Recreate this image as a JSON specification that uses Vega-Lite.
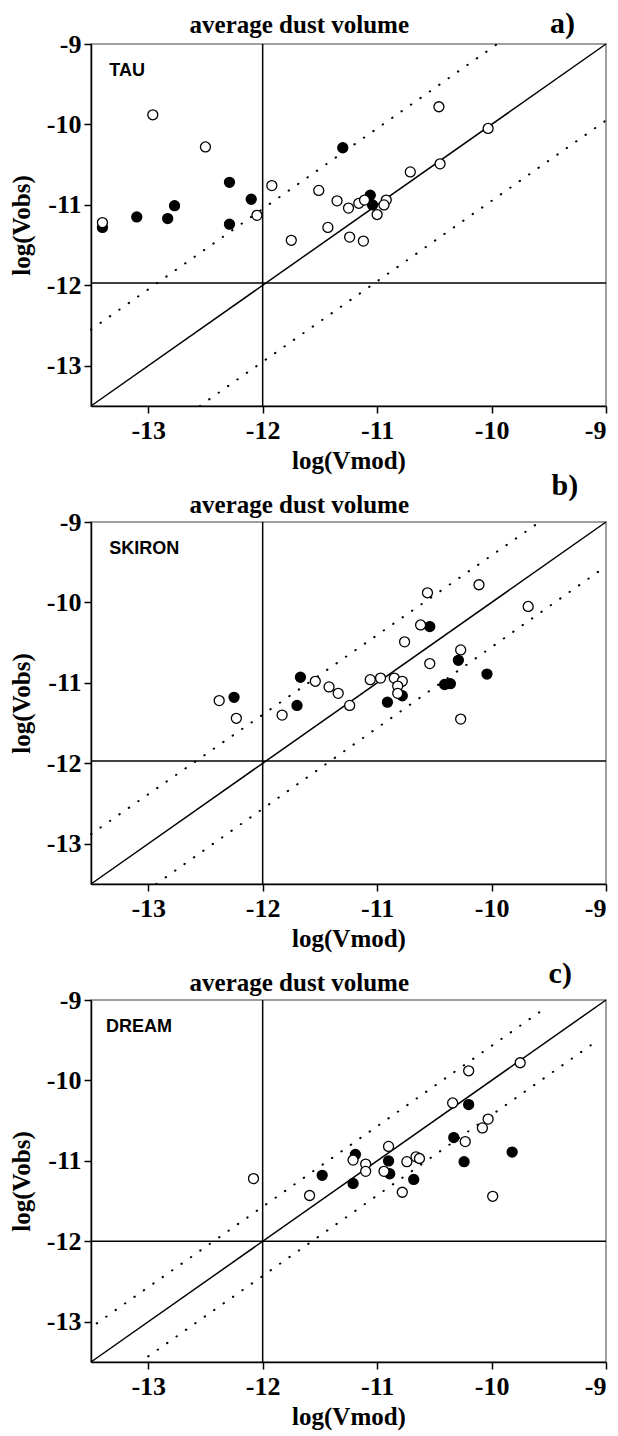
{
  "$schema": "https://vega.github.io/schema/vega-lite/v6.json",
  "padding": {"left": 8, "top": 8, "right": 5, "bottom": 5},
  "background": "white",
  "bounds": "flush",
  "spacing": 116,
  "config": {
    "font": "Liberation Serif",
    "view": {"stroke": "#808080", "strokeWidth": 1.5},
    "axis": {
      "grid": false,
      "domainColor": "black",
      "domainWidth": 1.5,
      "tickColor": "black",
      "tickWidth": 1.5,
      "tickSize": 7,
      "labelFont": "Liberation Serif",
      "labelFontSize": 26,
      "labelFontWeight": "bold",
      "labelColor": "black",
      "titleFont": "Liberation Serif",
      "titleFontSize": 25,
      "titleFontWeight": "bold",
      "titleColor": "black"
    },
    "axisX": {"labelPadding": 4, "titlePadding": 5},
    "axisY": {"labelPadding": 3, "titlePadding": 12}
  },
  "vconcat": [
    {
      "width": 515,
      "height": 362,
      "layer": [
        {
          "data": {"values": [{"x": -13.5, "y": -13.5}, {"x": -9, "y": -9}]},
          "mark": {"type": "line", "color": "black", "strokeWidth": 1.5},
          "encoding": {
            "x": {"field": "x", "type": "quantitative", "scale": {"domain": [-13.5, -9], "nice": false, "zero": false}, "axis": {"title": "log(Vmod)", "values": [-13, -12, -11, -10, -9], "labelExpr": "toString(datum.value)", "labelFontWeight": "bold"}},
            "y": {"field": "y", "type": "quantitative", "scale": {"domain": [-13.5, -9], "nice": false, "zero": false}, "axis": {"title": "log(Vobs)", "values": [-13, -12, -11, -10, -9], "labelExpr": "toString(datum.value)", "labelFontWeight": "bold"}}
          }
        },
        {
          "data": {"values": [
            {"g": "upper", "x": -13.5, "y": -12.55}, {"g": "upper", "x": -9.95, "y": -9},
            {"g": "lower", "x": -12.55, "y": -13.5}, {"g": "lower", "x": -9, "y": -9.95}
          ]},
          "mark": {"type": "line", "color": "black", "strokeWidth": 2, "strokeDash": [0.5, 11], "strokeCap": "round"},
          "encoding": {"x": {"field": "x", "type": "quantitative"}, "y": {"field": "y", "type": "quantitative"}, "detail": {"field": "g"}}
        },
        {
          "data": {"values": [{"v": -12}]},
          "mark": {"type": "rule", "color": "black", "strokeWidth": 1.5},
          "encoding": {"x": {"field": "v", "type": "quantitative"}}
        },
        {
          "data": {"values": [{"v": -11.97}]},
          "mark": {"type": "rule", "color": "black", "strokeWidth": 1.5},
          "encoding": {"y": {"field": "v", "type": "quantitative"}}
        },
        {
          "data": {"values": [
            {"x": -13.40, "y": -11.28, "t": "filled"},
            {"x": -13.10, "y": -11.15, "t": "filled"},
            {"x": -12.83, "y": -11.17, "t": "filled"},
            {"x": -12.77, "y": -11.01, "t": "filled"},
            {"x": -12.29, "y": -10.72, "t": "filled"},
            {"x": -12.29, "y": -11.24, "t": "filled"},
            {"x": -12.10, "y": -10.93, "t": "filled"},
            {"x": -11.30, "y": -10.29, "t": "filled"},
            {"x": -11.06, "y": -10.88, "t": "filled"},
            {"x": -11.04, "y": -11.00, "t": "filled"},
            {"x": -13.40, "y": -11.22, "t": "open"},
            {"x": -12.96, "y": -9.88, "t": "open"},
            {"x": -12.50, "y": -10.28, "t": "open"},
            {"x": -11.92, "y": -10.76, "t": "open"},
            {"x": -12.05, "y": -11.13, "t": "open"},
            {"x": -11.75, "y": -11.44, "t": "open"},
            {"x": -11.51, "y": -10.82, "t": "open"},
            {"x": -11.43, "y": -11.28, "t": "open"},
            {"x": -11.35, "y": -10.95, "t": "open"},
            {"x": -11.25, "y": -11.04, "t": "open"},
            {"x": -11.24, "y": -11.40, "t": "open"},
            {"x": -11.16, "y": -10.98, "t": "open"},
            {"x": -11.11, "y": -10.94, "t": "open"},
            {"x": -11.12, "y": -11.45, "t": "open"},
            {"x": -11.00, "y": -11.12, "t": "open"},
            {"x": -10.92, "y": -10.94, "t": "open"},
            {"x": -10.94, "y": -11.00, "t": "open"},
            {"x": -10.71, "y": -10.59, "t": "open"},
            {"x": -10.45, "y": -10.49, "t": "open"},
            {"x": -10.46, "y": -9.78, "t": "open"},
            {"x": -10.03, "y": -10.05, "t": "open"}
          ]},
          "mark": {"type": "point", "shape": "circle", "filled": true, "size": 100, "stroke": "black", "strokeWidth": 1.3, "opacity": 1},
          "encoding": {
            "x": {"field": "x", "type": "quantitative"},
            "y": {"field": "y", "type": "quantitative"},
            "fill": {"field": "t", "type": "nominal", "scale": {"domain": ["open", "filled"], "range": ["white", "black"]}, "legend": null}
          }
        },
        {
          "data": {"values": [{"label": "TAU"}]},
          "mark": {"type": "text", "font": "Liberation Sans", "fontWeight": "bold", "fontSize": 18, "align": "left", "baseline": "middle", "color": "black"},
          "encoding": {"x": {"datum": -13.34}, "y": {"datum": -9.34}, "text": {"field": "label"}}
        },
        {
          "data": {"values": [{"label": "average dust volume"}]},
          "mark": {"type": "text", "font": "Liberation Serif", "fontWeight": "bold", "fontSize": 25, "align": "center", "baseline": "middle", "color": "black"},
          "encoding": {"x": {"datum": -11.68}, "y": {"datum": -8.77}, "text": {"field": "label"}}
        },
        {
          "data": {"values": [{"label": "a)"}]},
          "mark": {"type": "text", "font": "Liberation Serif", "fontWeight": "bold", "fontSize": 30, "align": "center", "baseline": "middle", "color": "black"},
          "encoding": {"x": {"datum": -9.38}, "y": {"datum": -8.75}, "text": {"field": "label"}}
        }
      ]
    },
    {
      "width": 515,
      "height": 362,
      "layer": [
        {
          "data": {"values": [{"x": -13.5, "y": -13.5}, {"x": -9, "y": -9}]},
          "mark": {"type": "line", "color": "black", "strokeWidth": 1.5},
          "encoding": {
            "x": {"field": "x", "type": "quantitative", "scale": {"domain": [-13.5, -9], "nice": false, "zero": false}, "axis": {"title": "log(Vmod)", "values": [-13, -12, -11, -10, -9], "labelExpr": "toString(datum.value)", "labelFontWeight": "bold"}},
            "y": {"field": "y", "type": "quantitative", "scale": {"domain": [-13.5, -9], "nice": false, "zero": false}, "axis": {"title": "log(Vobs)", "values": [-13, -12, -11, -10, -9], "labelExpr": "toString(datum.value)", "labelFontWeight": "bold"}}
          }
        },
        {
          "data": {"values": [
            {"g": "upper", "x": -13.5, "y": -12.88}, {"g": "upper", "x": -9.58, "y": -9},
            {"g": "lower", "x": -12.93, "y": -13.5}, {"g": "lower", "x": -9, "y": -9.55}
          ]},
          "mark": {"type": "line", "color": "black", "strokeWidth": 2, "strokeDash": [0.5, 11], "strokeCap": "round"},
          "encoding": {"x": {"field": "x", "type": "quantitative"}, "y": {"field": "y", "type": "quantitative"}, "detail": {"field": "g"}}
        },
        {
          "data": {"values": [{"v": -12}]},
          "mark": {"type": "rule", "color": "black", "strokeWidth": 1.5},
          "encoding": {"x": {"field": "v", "type": "quantitative"}}
        },
        {
          "data": {"values": [{"v": -11.97}]},
          "mark": {"type": "rule", "color": "black", "strokeWidth": 1.5},
          "encoding": {"y": {"field": "v", "type": "quantitative"}}
        },
        {
          "data": {"values": [
            {"x": -10.54, "y": -10.30, "t": "filled"},
            {"x": -10.29, "y": -10.72, "t": "filled"},
            {"x": -10.04, "y": -10.89, "t": "filled"},
            {"x": -10.41, "y": -11.02, "t": "filled"},
            {"x": -10.36, "y": -11.01, "t": "filled"},
            {"x": -11.67, "y": -10.93, "t": "filled"},
            {"x": -12.25, "y": -11.18, "t": "filled"},
            {"x": -11.70, "y": -11.28, "t": "filled"},
            {"x": -10.91, "y": -11.24, "t": "filled"},
            {"x": -10.78, "y": -11.16, "t": "filled"},
            {"x": -10.56, "y": -9.88, "t": "open"},
            {"x": -10.11, "y": -9.78, "t": "open"},
            {"x": -9.68, "y": -10.05, "t": "open"},
            {"x": -10.62, "y": -10.28, "t": "open"},
            {"x": -10.76, "y": -10.49, "t": "open"},
            {"x": -10.27, "y": -10.59, "t": "open"},
            {"x": -10.54, "y": -10.76, "t": "open"},
            {"x": -11.06, "y": -10.96, "t": "open"},
            {"x": -10.97, "y": -10.94, "t": "open"},
            {"x": -10.85, "y": -10.94, "t": "open"},
            {"x": -10.78, "y": -10.98, "t": "open"},
            {"x": -10.82, "y": -11.04, "t": "open"},
            {"x": -11.54, "y": -10.98, "t": "open"},
            {"x": -11.42, "y": -11.05, "t": "open"},
            {"x": -11.34, "y": -11.13, "t": "open"},
            {"x": -10.82, "y": -11.13, "t": "open"},
            {"x": -12.38, "y": -11.22, "t": "open"},
            {"x": -12.23, "y": -11.44, "t": "open"},
            {"x": -11.83, "y": -11.40, "t": "open"},
            {"x": -11.24, "y": -11.28, "t": "open"},
            {"x": -10.27, "y": -11.45, "t": "open"}
          ]},
          "mark": {"type": "point", "shape": "circle", "filled": true, "size": 100, "stroke": "black", "strokeWidth": 1.3, "opacity": 1},
          "encoding": {
            "x": {"field": "x", "type": "quantitative"},
            "y": {"field": "y", "type": "quantitative"},
            "fill": {"field": "t", "type": "nominal", "scale": {"domain": ["open", "filled"], "range": ["white", "black"]}, "legend": null}
          }
        },
        {
          "data": {"values": [{"label": "SKIRON"}]},
          "mark": {"type": "text", "font": "Liberation Sans", "fontWeight": "bold", "fontSize": 18, "align": "left", "baseline": "middle", "color": "black"},
          "encoding": {"x": {"datum": -13.34}, "y": {"datum": -9.34}, "text": {"field": "label"}}
        },
        {
          "data": {"values": [{"label": "average dust volume"}]},
          "mark": {"type": "text", "font": "Liberation Serif", "fontWeight": "bold", "fontSize": 25, "align": "center", "baseline": "middle", "color": "black"},
          "encoding": {"x": {"datum": -11.68}, "y": {"datum": -8.79}, "text": {"field": "label"}}
        },
        {
          "data": {"values": [{"label": "b)"}]},
          "mark": {"type": "text", "font": "Liberation Serif", "fontWeight": "bold", "fontSize": 30, "align": "center", "baseline": "middle", "color": "black"},
          "encoding": {"x": {"datum": -9.36}, "y": {"datum": -8.55}, "text": {"field": "label"}}
        }
      ]
    },
    {
      "width": 515,
      "height": 362,
      "layer": [
        {
          "data": {"values": [{"x": -13.5, "y": -13.5}, {"x": -9, "y": -9}]},
          "mark": {"type": "line", "color": "black", "strokeWidth": 1.5},
          "encoding": {
            "x": {"field": "x", "type": "quantitative", "scale": {"domain": [-13.5, -9], "nice": false, "zero": false}, "axis": {"title": "log(Vmod)", "values": [-13, -12, -11, -10, -9], "labelExpr": "toString(datum.value)", "labelFontWeight": "bold"}},
            "y": {"field": "y", "type": "quantitative", "scale": {"domain": [-13.5, -9], "nice": false, "zero": false}, "axis": {"title": "log(Vobs)", "values": [-13, -12, -11, -10, -9], "labelExpr": "toString(datum.value)", "labelFontWeight": "bold"}}
          }
        },
        {
          "data": {"values": [
            {"g": "upper", "x": -13.45, "y": -13.02}, {"g": "upper", "x": -9.55, "y": -9.12},
            {"g": "lower", "x": -13.0, "y": -13.43}, {"g": "lower", "x": -9.08, "y": -9.51}
          ]},
          "mark": {"type": "line", "color": "black", "strokeWidth": 2, "strokeDash": [0.5, 11], "strokeCap": "round"},
          "encoding": {"x": {"field": "x", "type": "quantitative"}, "y": {"field": "y", "type": "quantitative"}, "detail": {"field": "g"}}
        },
        {
          "data": {"values": [{"v": -12}]},
          "mark": {"type": "rule", "color": "black", "strokeWidth": 1.5},
          "encoding": {"x": {"field": "v", "type": "quantitative"}}
        },
        {
          "data": {"values": [{"v": -12}]},
          "mark": {"type": "rule", "color": "black", "strokeWidth": 1.5},
          "encoding": {"y": {"field": "v", "type": "quantitative"}}
        },
        {
          "data": {"values": [
            {"x": -10.20, "y": -10.30, "t": "filled"},
            {"x": -10.33, "y": -10.71, "t": "filled"},
            {"x": -9.82, "y": -10.89, "t": "filled"},
            {"x": -10.24, "y": -11.01, "t": "filled"},
            {"x": -11.19, "y": -10.92, "t": "filled"},
            {"x": -10.90, "y": -11.00, "t": "filled"},
            {"x": -10.89, "y": -11.16, "t": "filled"},
            {"x": -11.48, "y": -11.18, "t": "filled"},
            {"x": -11.21, "y": -11.28, "t": "filled"},
            {"x": -10.68, "y": -11.23, "t": "filled"},
            {"x": -12.08, "y": -11.22, "t": "open"},
            {"x": -10.20, "y": -9.88, "t": "open"},
            {"x": -9.75, "y": -9.78, "t": "open"},
            {"x": -10.34, "y": -10.28, "t": "open"},
            {"x": -10.03, "y": -10.48, "t": "open"},
            {"x": -10.08, "y": -10.59, "t": "open"},
            {"x": -10.23, "y": -10.76, "t": "open"},
            {"x": -10.90, "y": -10.82, "t": "open"},
            {"x": -11.21, "y": -10.99, "t": "open"},
            {"x": -11.10, "y": -11.04, "t": "open"},
            {"x": -11.10, "y": -11.13, "t": "open"},
            {"x": -10.94, "y": -11.13, "t": "open"},
            {"x": -10.74, "y": -11.01, "t": "open"},
            {"x": -10.66, "y": -10.95, "t": "open"},
            {"x": -10.63, "y": -10.97, "t": "open"},
            {"x": -10.78, "y": -11.39, "t": "open"},
            {"x": -11.59, "y": -11.43, "t": "open"},
            {"x": -9.99, "y": -11.44, "t": "open"}
          ]},
          "mark": {"type": "point", "shape": "circle", "filled": true, "size": 100, "stroke": "black", "strokeWidth": 1.3, "opacity": 1},
          "encoding": {
            "x": {"field": "x", "type": "quantitative"},
            "y": {"field": "y", "type": "quantitative"},
            "fill": {"field": "t", "type": "nominal", "scale": {"domain": ["open", "filled"], "range": ["white", "black"]}, "legend": null}
          }
        },
        {
          "data": {"values": [{"label": "DREAM"}]},
          "mark": {"type": "text", "font": "Liberation Sans", "fontWeight": "bold", "fontSize": 18, "align": "left", "baseline": "middle", "color": "black"},
          "encoding": {"x": {"datum": -13.37}, "y": {"datum": -9.33}, "text": {"field": "label"}}
        },
        {
          "data": {"values": [{"label": "average dust volume"}]},
          "mark": {"type": "text", "font": "Liberation Serif", "fontWeight": "bold", "fontSize": 25, "align": "center", "baseline": "middle", "color": "black"},
          "encoding": {"x": {"datum": -11.68}, "y": {"datum": -8.79}, "text": {"field": "label"}}
        },
        {
          "data": {"values": [{"label": "c)"}]},
          "mark": {"type": "text", "font": "Liberation Serif", "fontWeight": "bold", "fontSize": 30, "align": "center", "baseline": "middle", "color": "black"},
          "encoding": {"x": {"datum": -9.4}, "y": {"datum": -8.68}, "text": {"field": "label"}}
        }
      ]
    }
  ]
}
